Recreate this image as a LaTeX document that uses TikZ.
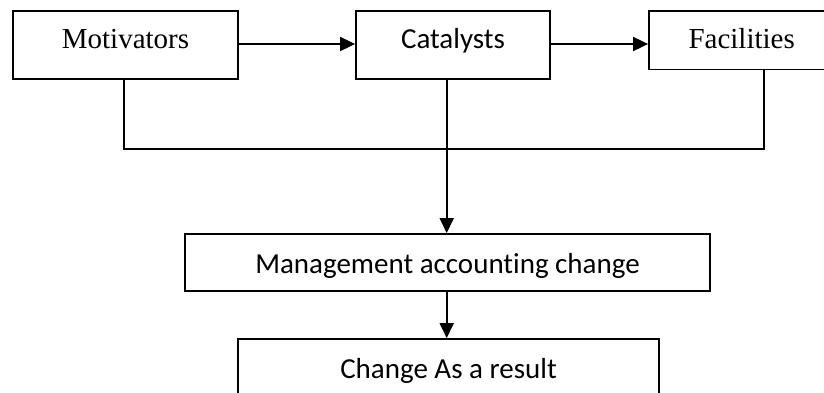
\documentclass[tikz,border=0pt]{standalone}
\usepackage{fontspec}
\setmainfont{Liberation Serif}
\newfontfamily\calibri[Ligatures=NoCommon]{Carlito}
\usepackage{tikz}
\usetikzlibrary{arrows.meta}

\tikzset{
  box/.style={draw, line width=1.8pt, inner sep=0pt, font=\fontsize{29}{34}\selectfont},
  boxc/.style={box, font=\fontsize{29}{34}\selectfont\calibri},
  link/.style={line width=1.8pt},
  arr/.style={link, -{Triangle[length=15pt,width=14pt]}}
}

\begin{document}
\begin{tikzpicture}[x=1pt,y=-1pt]
\useasboundingbox (0,0) rectangle (824,392);
\node[box, minimum width=225, minimum height=68, text height=20, text depth=14] (mot) at (125.5,45) {Motivators};
\node[boxc, minimum width=194, minimum height=68, text height=20, text depth=14] (cat) at (453,45) {Catalysts};
\node[box, minimum width=230, minimum height=58.5, text height=20, text depth=4.5, text width=209, align=left] (fac) at (764,40.25) {\hspace{29pt}Facilities};
\node[boxc, minimum width=525, minimum height=57, text height=25, text depth=4] (mac) at (447.5,262.5) {Management accounting change};
\node[boxc, minimum width=421, minimum height=78, text height=10, text depth=10] (res) at (448.5,378) {Change As a result};
\coordinate (bus) at (446.7,149);
\draw[arr] (mot.east |- 0,44) -- (cat.west |- 0,44);
\draw[arr] (cat.east |- 0,44) -- (fac.west |- 0,44);
\draw[link] (mot.south -| 124,0) |- (bus) -| (fac.south);
\draw[arr] (cat.south -| bus) -- (bus) -- (bus |- mac.north);
\draw[arr] (mac.south -| bus) -- (bus |- res.north);
\end{tikzpicture}
\end{document}
